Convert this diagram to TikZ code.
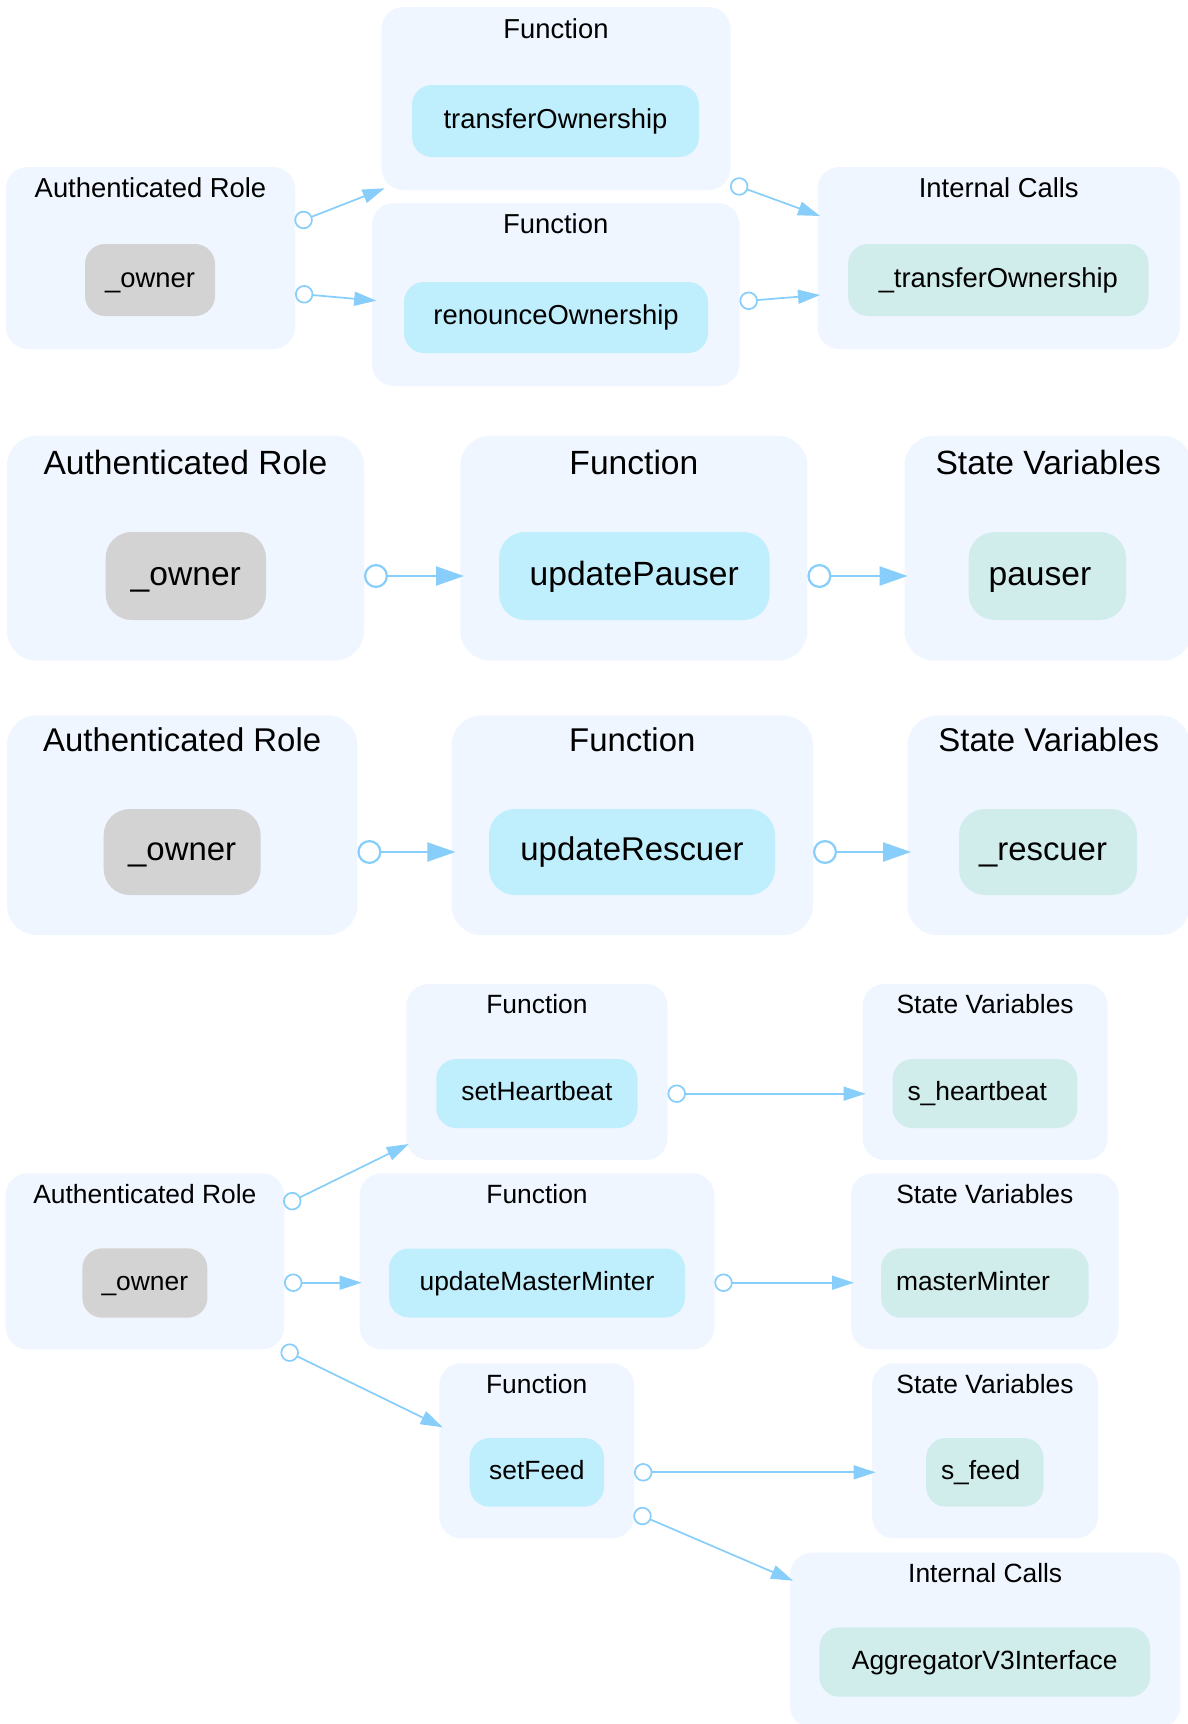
\documentclass[tikz,border=0pt]{standalone}
\usepackage{fontspec}
\setmainfont{Liberation Sans}
\usetikzlibrary{arrows.meta,calc}

\definecolor{clfill}{HTML}{EFF6FF}
\definecolor{fnfill}{HTML}{BFEEFC}
\definecolor{rolefill}{HTML}{D3D3D3}
\definecolor{varfill}{HTML}{D0EDEB}
\definecolor{edgec}{HTML}{87CEFA}

\newcommand\fsA{\fontsize{13.7pt}{16pt}\selectfont}
\newcommand\fsB{\fontsize{16.8pt}{20pt}\selectfont}
\newcommand\fsC{\fontsize{16.45pt}{20pt}\selectfont}
\newcommand\fsD{\fontsize{13.2pt}{16pt}\selectfont}

\tikzset{
  sz/.style 2 args={minimum width=#1*0.5pt, minimum height=#2*0.5pt},
  grp/.style={rectangle, rounded corners=11pt, fill=clfill, inner sep=0pt, outer sep=0pt},
  grpL/.style={grp, rounded corners=15pt},
  ttl/.style={anchor=base, inner sep=0pt, outer sep=0pt},
  item/.style={rectangle, rounded corners=10pt, inner sep=0pt, outer sep=0pt, text depth=3pt},
  itemL/.style={item, rounded corners=13pt},
  % per-diagram text settings
  rA/.style={font=\fsA, text height=10.4pt},
  rB/.style={font=\fsB, text height=12.07pt},
  rC/.style={font=\fsC, text height=11.9pt},
  rD/.style={font=\fsD, text height=10.1pt},
  role/.style={fill=rolefill},
  fn/.style={fill=fnfill},
  var/.style={fill=varfill},
  lvar/.style={fill=varfill, align=left},
  ed/.style={draw=edgec, line width=0.85pt,
    {Circle[open,length=9.2pt,width=9.2pt]}-{Triangle[length=11pt,width=7pt]}},
  edL/.style={draw=edgec, line width=1.1pt,
    {Circle[open,length=12pt,width=12pt]}-{Triangle[length=14pt,width=9.5pt]}},
}

\begin{document}
\begin{tikzpicture}[x=0.5pt, y=-0.5pt]
\fill[white] (0,0) rectangle (1188,1724);
\useasboundingbox (0,0) rectangle (1188,1724);

% ---------- Ownable ----------
\node[grp, sz={289}{182}] (A1) at (150.5,258) {};
\node[grp, sz={349}{183}] (F1a) at (556,98.5) {};
\node[grp, sz={367.5}{183}] (F1b) at (555.75,294.5) {};
\node[grp, sz={362.5}{182}] (I1) at (998.75,258) {};
\node[ttl, font=\fsA] (A1t) at ($(A1.north)+(0,30.8)$) {Authenticated Role};
\node[ttl, font=\fsA] (F1at) at ($(F1a.north)+(0,31.3)$) {Function};
\node[ttl, font=\fsA] (F1bt) at ($(F1b.north)+(0,30.8)$) {Function};
\node[ttl, font=\fsA] (I1t) at ($(I1.north)+(0,30.8)$) {Internal Calls};
\node[item, rA, role, sz={130}{72}] (o1) at (150,280) {\_owner};
\node[item, rA, fn, sz={287}{72}] (xfer) at (555.5,121) {transferOwnership};
\node[item, rA, fn, sz={304}{71}] (renounce) at (556,317.5) {renounceOwnership};
\node[item, rA, var, sz={300.6}{72}] (ixfer) at (998.3,280) {\_transferOwnership};

\draw[ed] ($(A1.north east)+(0,56.3)$) -- ($(F1a.south west)+(3.1,-1.7)$);
\draw[ed] ($(A1.north east)+(0,126.5)$) -- ($(F1b.north west)+(4.2,97.7)$);
\draw[ed] ($(F1a.south east)+(0,-6.7)$) -- ($(I1.north west)+(2.5,49)$);
\draw[ed] ($(F1b.north east)+(0,98.5)$) -- ($(I1.north west)+(2.5,128)$);

% ---------- updatePauser ----------
\node[grpL, sz={357}{225}] (A2) at (185.5,548.2) {};
\node[grpL, sz={347}{225}] (F2) at (633.9,548.2) {};
\node[grpL, sz={287.5}{225}] (S2) at (1048.25,548.2) {};
\node[ttl, font=\fsB] (A2t) at ($(A2.north)+(0,38.3)$) {Authenticated Role};
\node[ttl, font=\fsB] (F2t) at ($(F2.north)+(0,38.3)$) {Function};
\node[ttl, font=\fsB] (S2t) at ($(S2.north)+(0,38.3)$) {State Variables};
\node[itemL, rB, role, sz={160.4}{88}] (o2) at (185.8,576) {\_owner};
\node[itemL, rB, fn, sz={270.5}{88}] (upP) at (634.25,576) {updatePauser};
\node[itemL, rB, lvar, sz={157.4}{88}, inner xsep=10pt, text width=58.7pt] (pauser) at (1047.3,576) {pauser};

\draw[edL] ($(A2.north east)+(0,140.3)$) -- ($(F2.north west)+(3.6,140.3)$);
\draw[edL] ($(F2.north east)+(0,140.3)$) -- ($(S2.north west)+(3,140.3)$);

% ---------- updateRescuer ----------
\node[grpL, sz={350.4}{219.7}] (A3) at (182.2,825.15) {};
\node[grpL, sz={361.4}{219.7}] (F3) at (632.3,825.15) {};
\node[grpL, sz={282.5}{219.7}] (S3) at (1048.75,825.15) {};
\node[ttl, font=\fsC] (A3t) at ($(A3.north)+(0,36.4)$) {Authenticated Role};
\node[ttl, font=\fsC] (F3t) at ($(F3.north)+(0,36.4)$) {Function};
\node[ttl, font=\fsC] (S3t) at ($(S3.north)+(0,36.4)$) {State Variables};
\node[itemL, rC, role, sz={156.9}{86}] (o3) at (182.15,852) {\_owner};
\node[itemL, rC, fn, sz={286}{86}] (upR) at (632,852) {updateRescuer};
\node[itemL, rC, lvar, sz={178}{86}, inner xsep=10pt, text width=69pt] (rescuer) at (1048,852) {\_rescuer};

\draw[edL] ($(A3.north east)+(0,136.7)$) -- ($(F3.north west)+(3.8,136.7)$);
\draw[edL] ($(F3.north east)+(0,136.7)$) -- ($(S3.north west)+(3.5,136.7)$);

% ---------- feed, heartbeat and master minter ----------
\node[grp, sz={261.1}{176}] (F4a) at (536.95,1072) {};
\node[grp, sz={245.2}{176}] (S4a) at (985.1,1072) {};
\node[grp, sz={278.3}{176}] (A4) at (144.85,1261.3) {};
\node[grp, sz={354.6}{176}] (F4b) at (537,1261.3) {};
\node[grp, sz={267.6}{176}] (S4b) at (984.8,1261.3) {};
\node[grp, sz={194.7}{175}] (F4c) at (536.65,1450.8) {};
\node[grp, sz={226}{175}] (S4c) at (985,1450.8) {};
\node[grp, sz={390.4}{175}] (I4) at (985.2,1640.2) {};
\node[ttl, font=\fsD] (F4at) at ($(F4a.north)+(0,29.7)$) {Function};
\node[ttl, font=\fsD] (S4at) at ($(S4a.north)+(0,29.7)$) {State Variables};
\node[ttl, font=\fsD] (A4t) at ($(A4.north)+(0,29.7)$) {Authenticated Role};
\node[ttl, font=\fsD] (F4bt) at ($(F4b.north)+(0,29.7)$) {Function};
\node[ttl, font=\fsD] (S4bt) at ($(S4b.north)+(0,29.7)$) {State Variables};
\node[ttl, font=\fsD] (F4ct) at ($(F4c.north)+(0,29.7)$) {Function};
\node[ttl, font=\fsD] (S4ct) at ($(S4c.north)+(0,29.7)$) {State Variables};
\node[ttl, font=\fsD] (I4t) at ($(I4.north)+(0,29.7)$) {Internal Calls};
\node[item, rD, fn, sz={201.2}{69}] (hb) at (536.9,1093.5) {setHeartbeat};
\node[item, rD, lvar, sz={184.8}{69}, inner xsep=7.5pt, text width=77.4pt] (shb) at (984.9,1093.5) {s\_heartbeat};
\node[item, rD, role, sz={125.1}{69.4}] (o4) at (144.85,1283) {\_owner};
\node[item, rD, fn, sz={296}{69}] (mm) at (537,1283) {updateMasterMinter};
\node[item, rD, lvar, sz={207.6}{69.4}, inner xsep=7.5pt, text width=88.8pt] (smm) at (984.8,1283) {masterMinter};
\node[item, rD, fn, sz={134.3}{68.7}] (feed) at (536.85,1472.35) {setFeed};
\node[item, rD, lvar, sz={117.6}{68.7}, inner xsep=7.5pt, text width=43.8pt] (sfeed) at (984.8,1472.35) {s\_feed};
\node[item, rD, var, sz={330.6}{69.4}] (agg) at (984.7,1662) {AggregatorV3Interface};

\draw[ed] ($(A4.north east)+(0,31.9)$) -- ($(F4a.south west)+(2.3,-16)$);
\draw[ed] ($(A4.north east)+(0,109.4)$) -- ($(F4b.north west)+(1.9,109.4)$);
\draw[ed] ($(A4.south east)+(-2.6,-0.7)$) -- ($(F4c.north west)+(3.4,64)$);
\draw[ed] ($(F4a.north east)+(0,109.7)$) -- ($(S4a.north west)+(3,109.7)$);
\draw[ed] ($(F4b.north east)+(0,109.4)$) -- ($(S4b.north west)+(3,109.4)$);
\draw[ed] ($(F4c.north east)+(0,109)$) -- ($(S4c.north west)+(3.6,109)$);
\draw[ed] ($(F4c.north east)+(0,149.1)$) -- ($(I4.north west)+(3,28)$);
\end{tikzpicture}
\end{document}
